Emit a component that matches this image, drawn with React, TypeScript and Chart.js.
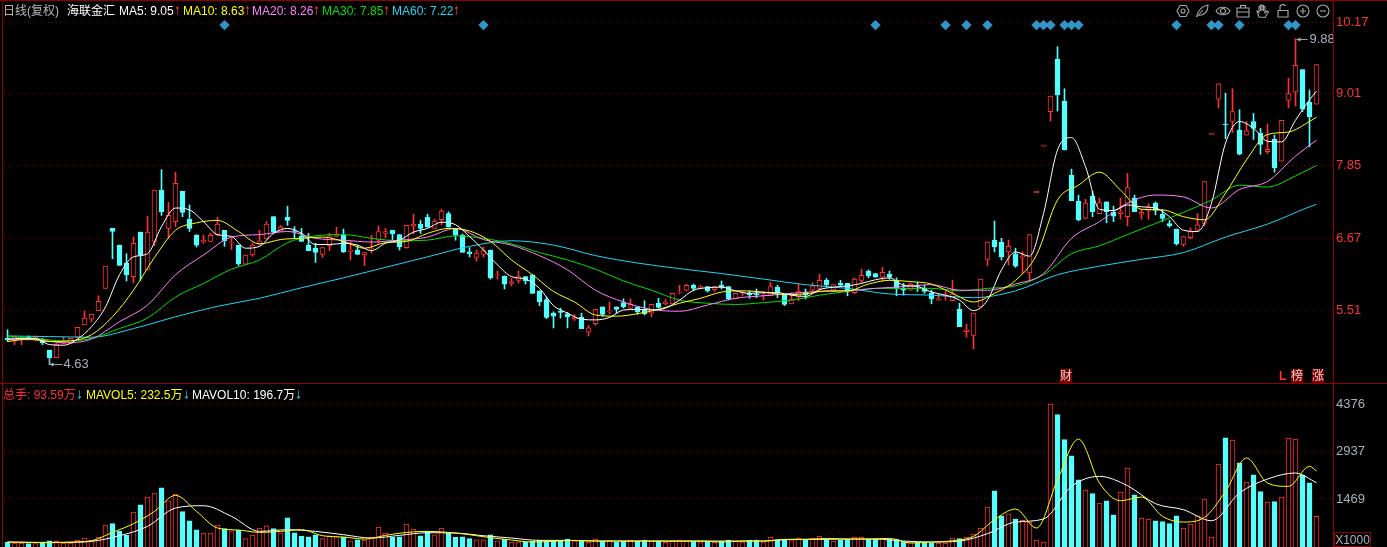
import React, { useEffect, useRef } from "react";
import Chart from "chart.js/auto";

const opens = [
  5.05,5.01,5.03,5.07,5.04,5.03,4.86,4.74,4.97,4.97,
  5.07,5.27,5.36,5.50,5.86,6.83,6.56,6.27,6.05,6.77,
  6.16,6.62,7.45,6.83,6.94,7.43,6.98,6.72,6.61,6.62,
  6.73,6.80,6.59,6.56,6.25,6.40,6.58,6.67,7.02,6.78,
  7.01,6.79,6.71,6.56,6.51,6.41,6.55,6.70,6.72,6.46,
  6.48,6.40,6.50,6.64,6.75,6.80,6.73,6.52,6.87,6.90,
  7.01,6.83,6.97,7.07,6.82,6.72,6.45,6.36,6.41,6.48,
  6.07,6.06,5.94,5.99,6.05,6.08,5.82,5.68,5.46,5.49,
  5.45,5.37,5.39,5.15,5.29,5.56,5.48,5.56,5.63,5.54,
  5.56,5.52,5.46,5.62,5.61,5.61,5.79,5.83,5.91,5.87,
  5.89,5.84,5.91,5.89,5.69,5.78,5.78,5.77,5.74,5.74,
  5.88,5.75,5.61,5.72,5.80,5.83,5.86,5.99,5.83,5.94,
  5.94,5.79,5.99,6.14,6.10,6.04,6.09,5.98,5.86,5.83,
  5.91,5.86,5.78,5.67,5.74,5.66,5.52,5.16,5.10,5.56,
  6.33,6.64,6.61,6.45,6.42,6.36,6.11,7.41,8.16,8.72,
  9.57,8.89,7.69,7.27,6.99,7.35,7.07,7.26,7.09,7.07,
  7.02,7.32,7.06,7.12,7.24,7.06,6.91,6.82,6.57,6.68,
  6.80,6.91,8.35,8.92,8.52,8.56,8.42,8.34,8.56,8.37,
  8.07,8.27,7.92,8.90,9.04,9.40,8.87,8.84,
];
const closes = [
  5.03,5.08,5.05,5.04,5.07,4.98,4.74,4.95,4.99,5.05,
  5.23,5.38,5.44,5.65,6.22,6.78,6.23,6.08,6.59,6.40,
  6.77,7.45,7.10,7.04,7.56,7.09,6.83,6.56,6.64,6.72,
  6.90,6.63,6.60,6.26,6.40,6.56,6.63,6.90,6.77,6.85,
  6.96,6.78,6.62,6.47,6.44,6.52,6.71,6.73,6.45,6.48,
  6.41,6.44,6.51,6.78,6.78,6.74,6.53,6.88,6.90,6.83,
  6.85,6.95,7.11,6.85,6.72,6.44,6.42,6.43,6.47,6.03,
  6.08,5.93,5.97,6.05,5.98,5.78,5.64,5.39,5.41,5.47,
  5.40,5.39,5.21,5.22,5.52,5.44,5.49,5.52,5.56,5.60,
  5.48,5.45,5.60,5.55,5.64,5.78,5.80,5.91,5.86,5.89,
  5.82,5.89,5.88,5.69,5.78,5.79,5.76,5.76,5.75,5.89,
  5.79,5.60,5.68,5.81,5.76,5.90,5.99,5.92,5.92,5.91,
  5.81,6.01,6.07,6.06,6.04,6.12,6.04,5.86,5.83,5.93,
  5.90,5.81,5.69,5.69,5.75,5.77,5.24,5.19,5.46,6.01,
  6.61,6.53,6.37,6.54,6.22,6.38,6.73,7.43,8.18,8.97,
  8.99,8.10,7.28,6.97,7.24,7.10,7.25,7.10,7.03,7.10,
  7.49,7.10,7.09,7.17,7.12,6.99,6.87,6.58,6.70,6.78,
  6.89,7.59,8.37,9.17,8.51,8.72,8.03,8.41,8.45,8.19,
  8.11,7.81,8.58,9.01,9.47,8.76,8.64,9.48,
];
const highs = [
  5.19,5.08,5.08,5.09,5.09,5.05,4.86,4.97,5.07,5.05,
  5.23,5.49,5.44,5.74,6.22,6.83,6.56,6.42,6.69,6.77,
  7.03,7.45,7.78,7.25,7.74,7.43,7.21,6.73,6.72,6.75,
  7.01,6.80,6.67,6.56,6.40,6.59,6.80,6.94,7.02,6.88,
  7.19,6.86,6.83,6.75,6.59,6.52,6.75,6.85,6.82,6.62,
  6.55,6.44,6.72,6.87,6.83,6.80,6.73,6.88,7.06,6.96,
  7.06,6.98,7.14,7.10,6.82,6.74,6.52,6.48,6.53,6.48,
  6.14,6.06,6.02,6.14,6.05,6.08,5.82,5.72,5.48,5.54,
  5.47,5.44,5.46,5.26,5.52,5.56,5.64,5.56,5.69,5.69,
  5.56,5.66,5.60,5.70,5.68,5.78,5.91,5.93,5.93,5.91,
  5.89,5.89,5.98,5.89,5.78,5.82,5.82,5.85,5.81,5.96,
  5.91,5.75,5.79,5.93,5.85,5.95,6.09,6.02,5.92,5.99,
  5.94,6.03,6.17,6.16,6.10,6.20,6.14,6.03,5.94,5.95,
  5.96,5.91,5.83,5.78,5.81,5.99,5.62,5.28,5.46,6.01,
  6.61,6.95,6.67,6.64,6.51,6.45,6.73,7.43,8.18,8.97,
  9.77,9.09,7.79,7.37,7.30,7.43,7.32,7.26,7.19,7.32,
  7.72,7.37,7.14,7.23,7.26,7.13,6.96,6.82,6.70,6.84,
  7.07,7.59,8.37,9.17,9.02,9.09,8.75,8.56,8.69,8.45,
  8.52,8.34,8.58,9.26,9.90,9.40,9.07,9.48,
];
const lows = [
  5.00,4.95,4.95,5.03,5.01,4.95,4.63,4.74,4.96,4.97,
  5.07,5.27,5.32,5.50,5.86,6.34,6.23,5.98,5.95,5.99,
  6.16,6.55,7.04,6.67,6.86,7.02,6.78,6.53,6.59,6.62,
  6.71,6.54,6.49,6.23,6.25,6.38,6.56,6.66,6.75,6.78,
  6.88,6.67,6.62,6.47,6.28,6.36,6.47,6.70,6.44,6.32,
  6.41,6.23,6.43,6.59,6.68,6.65,6.48,6.51,6.74,6.75,
  6.85,6.83,6.89,6.85,6.64,6.44,6.37,6.30,6.37,6.01,
  6.01,5.85,5.90,5.95,5.93,5.78,5.58,5.37,5.22,5.38,
  5.22,5.34,5.21,5.09,5.26,5.41,5.45,5.46,5.54,5.53,
  5.44,5.43,5.40,5.54,5.59,5.61,5.77,5.82,5.82,5.85,
  5.80,5.81,5.85,5.67,5.69,5.74,5.70,5.71,5.67,5.74,
  5.71,5.58,5.61,5.66,5.69,5.77,5.81,5.88,5.81,5.90,
  5.74,5.77,5.95,6.03,6.04,5.98,6.01,5.74,5.75,5.83,
  5.81,5.78,5.61,5.67,5.67,5.66,5.24,5.07,4.88,5.56,
  6.23,6.45,6.32,6.24,6.20,6.10,5.97,7.41,8.16,8.57,
  8.73,8.10,7.28,6.95,6.99,7.02,7.07,6.92,6.94,6.98,
  6.87,7.10,6.98,6.98,7.05,6.94,6.85,6.56,6.54,6.66,
  6.78,6.87,8.35,8.78,8.28,8.38,8.02,8.34,8.27,8.03,
  8.04,7.74,7.92,8.78,8.81,8.72,8.15,8.84,
];
const volumes = [
  152,121,121,101,101,121,192,172,121,121,
  213,274,213,305,672,713,488,366,1070,1294,
  1529,1651,1814,1416,1620,1080,804,529,427,427,
  672,560,498,509,254,366,580,651,560,437,
  896,437,325,315,376,254,345,315,305,192,
  223,213,305,611,427,294,315,702,549,345,
  478,376,580,427,294,315,254,223,223,376,
  192,233,152,162,152,182,213,192,192,182,
  243,192,182,152,243,182,192,141,182,213,
  182,213,182,182,152,182,213,182,182,162,
  182,152,182,213,182,162,213,213,162,305,
  223,223,223,274,243,274,335,243,182,203,
  243,305,305,243,243,274,243,243,162,162,
  152,140,130,121,121,274,254,305,396,580,
  1223,1722,957,1018,855,815,764,213,152,4374,
  4048,3283,2793,2059,1743,1631,1345,1416,988,1682,
  2416,1600,886,855,804,774,713,957,580,702,
  957,1467,305,2538,3344,3273,2579,1988,2212,1692,
  1376,1386,1529,3334,3303,2202,1967,936,
];

// moving averages, read every few sessions (the last entry is the latest session)
const ma5 = [
  5.04,5.05,5.05,4.95,4.94,5.04,5.24,5.56,6.08,6.37,6.42,6.86,7.16,7.13,6.94,6.73,6.70,
  6.51,6.54,6.75,6.83,6.75,6.57,6.57,6.59,6.56,6.47,6.59,6.64,6.77,6.83,6.93,6.89,
  6.70,6.48,6.24,6.05,6.01,5.86,5.58,5.46,5.36,5.35,5.39,5.51,5.52,5.51,5.54,5.67,
  5.83,5.87,5.88,5.82,5.78,5.79,5.79,5.75,5.73,5.84,5.88,5.90,5.94,6.00,6.03,
  5.91,5.89,5.80,5.75,5.67,5.50,5.67,6.16,6.45,6.38,7.07,8.10,8.30,7.83,7.14,7.12,
  7.21,7.18,7.16,7.02,6.80,6.78,7.24,8.21,8.56,8.45,8.24,8.23,8.58,8.91,9.05,
];
const ma10 = [
  5.00,5.04,5.00,5.01,5.11,5.40,5.83,6.36,6.80,6.92,6.96,6.78,6.58,6.65,6.67,6.69,6.62,6.51,6.60,6.62,6.75,6.83,
  6.79,6.62,6.32,6.08,5.81,5.64,5.43,5.41,5.45,5.52,5.62,5.70,5.80,5.82,5.80,5.76,5.77,5.82,5.82,5.93,5.99,
  5.97,5.93,5.78,5.64,5.78,5.99,6.40,7.29,7.53,7.74,7.45,7.14,7.13,7.02,6.97,7.40,7.94,8.35,8.39,8.56,8.63,
];
const ma20 = [
  5.03,5.03,4.98,5.04,5.32,5.59,6.08,6.40,6.69,6.73,6.78,6.67,6.64,6.61,6.64,6.69,6.83,
  6.65,6.56,6.39,6.16,5.83,5.64,5.52,5.49,5.59,5.70,5.74,5.78,5.81,5.82,5.86,
  5.89,5.92,5.83,5.83,5.93,6.10,6.67,6.94,7.24,7.37,7.34,7.16,7.46,7.59,8.00,8.26,
];
const ma30 = [
  5.08,5.05,5.01,5.05,5.21,5.38,5.72,5.94,6.17,6.32,6.60,6.71,6.73,6.67,6.63,6.64,6.71,
  6.67,6.58,6.44,6.32,6.17,5.98,5.83,5.67,5.62,5.60,5.63,5.67,5.75,5.81,5.86,
  5.86,5.86,5.82,5.86,5.90,6.08,6.42,6.55,6.73,6.91,7.09,7.29,7.53,7.50,7.68,7.85,
];
const ma60 = [
  5.09,5.08,5.07,5.21,5.40,5.57,5.70,5.87,6.03,6.20,6.37,6.54,6.63,6.56,6.39,6.27,
  6.18,6.10,6.01,5.92,5.86,5.77,5.75,5.71,5.82,6.08,6.22,6.33,6.44,6.69,6.90,7.18,7.22,
];
const mavol5 = [
  152,141,131,152,192,447,713,1090,1580,1090,580,519,447,478,529,345,305,243,356,447,478,447,
  376,284,213,152,172,203,182,182,182,182,182,182,152,182,182,233,233,264,243,243,264,
  121,152,192,325,835,1162,580,2059,3300,1957,1416,1529,937,764,906,1702,2722,1957,1855,2467,2325,
];
const mavol10 = [
  152,141,141,172,345,631,1192,1263,937,478,529,478,376,274,356,437,427,
  345,274,203,203,182,182,182,182,182,182,182,233,233,243,243,
  182,152,182,407,763,855,1855,2161,1875,1325,1141,804,1651,2079,2263,1967,
];

const signalDays = [31,68,124,134,137,140,147,148,149,151,152,153,167,172,173,176,183,184];
const priceTicks = [10.17, 9.01, 7.85, 6.67, 5.51];
const volumeTicks = [4376, 2937, 1469];
const lowDay = 6;
const lowText = "4.63";
const highDay = 184;
const highText = "9.88";

const FONT = '"Liberation Sans", "Noto Sans CJK SC", sans-serif';
const RED = "#ff3232";
const CYAN = "#54ffff";
const GRID = "#7a0000";
const FRAME = "#8c0000";
const GREY = "#a8b0bc";

const slots = Array.from({ length: 190 }, (_, i) => i);
const LAST = opens.length - 1;
const sampled = (values: number[], step: number) =>
  values.map((y, k) => ({ x: Math.min(k * step, LAST), y }));
const rising = opens.map((o, i) => closes[i] >= o);
const barColor = rising.map((r) => (r ? RED : CYAN));
const barFill = rising.map((r) => (r ? "#000000" : CYAN));

const maLine = (data: { x: number; y: number }[], color: string, order: number) => ({
  type: "line" as const,
  data,
  borderColor: color,
  borderWidth: 1,
  pointRadius: 0,
  cubicInterpolationMode: "monotone" as const,
  order,
});

const extremes = {
  id: "extremes",
  afterDatasetsDraw(chart: any) {
    const { ctx, scales } = chart;
    ctx.save();
    ctx.strokeStyle = "#a0a0a0";
    ctx.fillStyle = GREY;
    ctx.font = `13px ${FONT}`;
    ctx.textBaseline = "middle";
    const arrow = (x: number, y: number, len: number) => {
      ctx.beginPath();
      ctx.moveTo(x, y + 0.5);
      ctx.lineTo(x + len, y + 0.5);
      ctx.stroke();
      ctx.beginPath();
      ctx.moveTo(x, y + 0.5);
      ctx.lineTo(x + 4, y - 1.5);
      ctx.lineTo(x + 4, y + 2.5);
      ctx.closePath();
      ctx.fill();
    };
    const lx = Math.round(scales.x.getPixelForValue(lowDay)) + 0.5;
    const ly = Math.round(scales.y.getPixelForValue(lows[lowDay]));
    ctx.beginPath();
    ctx.moveTo(lx - 1, ly - 6);
    ctx.lineTo(lx - 1, ly + 1);
    ctx.stroke();
    arrow(lx - 1, ly, 13);
    ctx.fillText(lowText, lx + 13, ly + 0.5);
    const hx = Math.round(scales.x.getPixelForValue(highDay)) + 0.5;
    const hy = Math.round(scales.y.getPixelForValue(highs[highDay]));
    arrow(hx, hy, 11);
    ctx.fillText(highText, hx + 13, hy + 0.5);
    ctx.restore();
  },
};

const yAxis = (min: number, max: number, values: number[], color: string, fmt: (v: number) => string) => ({
  position: "right" as const,
  min,
  max,
  afterFit: (s: any) => {
    s.width = 53;
    s.paddingTop = 0;
    s.paddingBottom = 0;
    if (s._margins) {
      s._margins.top = 0;
      s._margins.bottom = 0;
    }
  },
  afterBuildTicks: (s: any) => {
    s.ticks = values.map((value) => ({ value }));
  },
  border: { display: false, dash: [1, 3] },
  grid: { color: GRID, drawTicks: false, lineWidth: 1 },
  ticks: {
    autoSkip: false,
    color,
    padding: 2,
    font: { family: FONT, size: 13 },
    callback: (v: any) => fmt(Number(v)),
  },
});

const baseOptions = {
  responsive: false,
  animation: false as const,
  events: [],
  layout: { autoPadding: false, padding: { left: 4, right: 0, top: 0, bottom: 0 } },
  plugins: { legend: { display: false }, tooltip: { enabled: false } },
};

const Seg = ({ left, top, color, children }: any) => (
  <span style={{ position: "absolute", left, top, color, whiteSpace: "pre", lineHeight: "14px" }}>{children}</span>
);

const Icon = ({ left, children }: any) => (
  <svg
    width="16"
    height="16"
    viewBox="0 0 16 16"
    fill="none"
    stroke="#a6a6a6"
    strokeWidth="1.1"
    style={{ position: "absolute", left: left - 8, top: 3 }}
  >
    {children}
  </svg>
);

const Badge = ({ left, text }: any) => (
  <span
    style={{
      position: "absolute",
      left,
      top: 369,
      width: 12,
      height: 14,
      lineHeight: "14px",
      textAlign: "center",
      background: "#7a0000",
      color: "#f0d0d0",
    }}
  >
    {text}
  </span>
);

const arrowStyle = (color: string) => ({
  display: "inline-block",
  width: 6,
  overflow: "visible",
  color,
  fontFamily: '"DejaVu Sans"',
  fontSize: 12,
  transform: "scaleX(0.65)",
  transformOrigin: "0 50%",
});
const Up = () => <span style={arrowStyle(RED) as any}>↑</span>;
const Down = () => <span style={arrowStyle("#2ec4d8") as any}>↓</span>;

export default function App() {
  const priceRef = useRef<HTMLCanvasElement>(null);
  const volRef = useRef<HTMLCanvasElement>(null);

  useEffect(() => {
    document.body.style.margin = "0";
    document.body.style.background = "#000";
    const price = new Chart(priceRef.current!, {
      type: "bar",
      data: {
        labels: slots,
        datasets: [
          {
            data: lows.map((l, i) => [l, highs[i]]),
            backgroundColor: barColor,
            barThickness: 1,
            grouped: false,
            order: 9,
          },
          {
            data: opens.map((o, i) => [o, closes[i]]),
            backgroundColor: barFill,
            borderColor: barColor,
            borderWidth: 1,
            borderSkipped: false,
            barThickness: 5,
            grouped: false,
            order: 8,
          },
          maLine(sampled(ma60, 6), "#1ed6f5", 6),
          maLine(sampled(ma30, 4), "#00e000", 5),
          maLine(sampled(ma20, 4), "#ff80ff", 4),
          maLine(sampled(ma10, 3), "#ffff00", 3),
          maLine(sampled(ma5, 2), "#ffffff", 2),
          {
            type: "line",
            data: signalDays.map((x) => ({ x, y: 10.12 })),
            showLine: false,
            pointStyle: "rectRot",
            pointRadius: 5.2,
            pointBorderWidth: 0,
            pointBackgroundColor: "#2e96c8",
            order: 1,
          },
        ],
      } as any,
      options: {
        ...baseOptions,
        scales: {
          x: { display: false },
          y: yAxis(4.329, 10.526, priceTicks, RED, (v) => v.toFixed(2)),
        },
      } as any,
      plugins: [extremes],
    });
    const vol = new Chart(volRef.current!, {
      type: "bar",
      data: {
        labels: slots,
        datasets: [
          {
            data: volumes,
            backgroundColor: barFill,
            borderColor: barColor,
            borderWidth: 1,
            borderSkipped: "bottom",
            barThickness: 5,
            order: 5,
          },
          maLine(sampled(mavol10, 4), "#ffffff", 3),
          maLine(sampled(mavol5, 3), "#ffff00", 2),
        ],
      } as any,
      options: {
        ...baseOptions,
        scales: {
          x: { display: false },
          y: yAxis(0, 5018, volumeTicks, GREY, (v) => String(v)),
        },
      } as any,
    });
    return () => {
      price.destroy();
      vol.destroy();
    };
  }, []);

  return (
    <div
      style={{
        position: "relative",
        width: 1387,
        height: 547,
        background: "#000",
        overflow: "hidden",
        fontFamily: FONT,
        fontSize: 12,
      }}
    >
      <canvas ref={priceRef} width={1387} height={383} style={{ position: "absolute", left: 0, top: 0 }} />
      <canvas ref={volRef} width={1387} height={164} style={{ position: "absolute", left: 0, top: 383 }} />
      <div style={{ position: "absolute", left: 2, top: 0, width: 1, height: 547, background: FRAME }} />
      <div style={{ position: "absolute", left: 1333, top: 0, width: 1, height: 547, background: FRAME }} />
      <div style={{ position: "absolute", left: 0, top: 0, width: 1387, height: 1, background: FRAME }} />
      <div style={{ position: "absolute", left: 0, top: 383, width: 1387, height: 1, background: FRAME }} />

      <Seg left={3} top={4} color="#b8b8b8">日线(复权)</Seg>
      <Seg left={67} top={4} color="#ffffff">海联金汇</Seg>
      <Seg left={119} top={4} color="#ffffff">MA5: 9.05<Up /></Seg>
      <Seg left={183} top={4} color="#ffff00">MA10: 8.63<Up /></Seg>
      <Seg left={252} top={4} color="#ff80ff">MA20: 8.26<Up /></Seg>
      <Seg left={322} top={4} color="#00e000">MA30: 7.85<Up /></Seg>
      <Seg left={392} top={4} color="#1ed6f5">MA60: 7.22<Up /></Seg>

      <Seg left={3} top={388} color={RED}>总手: 93.59万<Down /></Seg>
      <Seg left={86} top={388} color="#ffff00">MAVOL5: 232.5万<Down /></Seg>
      <Seg left={192} top={388} color="#ffffff">MAVOL10: 196.7万<Down /></Seg>

      <Badge left={1060} text="财" />
      <span style={{ position: "absolute", left: 1279, top: 369, lineHeight: "14px", color: RED, fontWeight: 700 }}>L</span>
      <Badge left={1291} text="榜" />
      <Badge left={1312} text="涨" />

      <div
        style={{
          position: "absolute",
          left: 1334,
          top: 532,
          width: 37,
          height: 15,
          boxSizing: "border-box",
          border: `1px solid ${FRAME}`,
          color: GREY,
          lineHeight: "14px",
          textAlign: "center",
          fontSize: 12,
        }}
      >
        X1000
      </div>

      <Icon left={1183}>
        <circle cx="8" cy="8" r="2" />
        <path d="M5 2.5h6L14 8l-3 5.5H5L2 8z" />
      </Icon>
      <Icon left={1202}>
        <path d="M2.5 14C4 7 8 3 14 2c0 6-3 10-9 10.500" />
        <path d="M2.5 14L9 7" />
      </Icon>
      <Icon left={1223}>
        <path d="M1 8c3-5 11-5 14 0-3 5-11 5-14 0z" />
        <circle cx="8" cy="8" r="2.500" />
      </Icon>
      <Icon left={1243}>
        <path d="M2 5h12v9H2zM5.500 5V2.500h5V5M2 9h12" />
      </Icon>
      <Icon left={1263}>
        <path d="M4 14L2 8l2 1V3.500h1.500V8V2h1.500v6V2.500h1.500V8V3.500H10V10l2-2 1.500 1L10 14.500z" />
      </Icon>
      <Icon left={1283}>
        <path d="M3 7.500h10V14H3zM5 7.500V4c0-3 5-3 5.500-1" />
      </Icon>
      <Icon left={1303}>
        <circle cx="8" cy="8" r="6" />
        <path d="M5 8h6M8 5v6" />
      </Icon>
      <Icon left={1323}>
        <circle cx="8" cy="8" r="6" />
        <path d="M5 8h6" />
      </Icon>
    </div>
  );
}
